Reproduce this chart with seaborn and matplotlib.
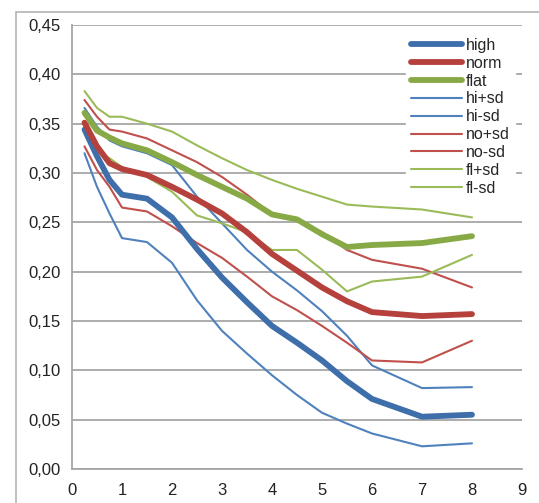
import numpy as np
import pandas as pd
import matplotlib
matplotlib.use("Agg")
import matplotlib.pyplot as plt
from matplotlib.patches import Rectangle
from matplotlib.ticker import FuncFormatter
import seaborn as sns

# x positions of the readings
x_vals = [0.25, 0.5, 0.75, 1, 1.5, 2, 2.5, 3, 3.5, 4, 4.5, 5, 5.5, 6, 7, 8]

high   = [0.344, 0.317, 0.293, 0.278, 0.274, 0.255, 0.223, 0.194, 0.169, 0.145, 0.128, 0.110, 0.089, 0.071, 0.053, 0.055]
norm   = [0.351, 0.327, 0.310, 0.304, 0.298, 0.286, 0.273, 0.259, 0.240, 0.218, 0.201, 0.184, 0.170, 0.159, 0.155, 0.157]
flat   = [0.361, 0.343, 0.336, 0.330, 0.323, 0.311, 0.298, 0.286, 0.274, 0.258, 0.253, 0.238, 0.225, 0.227, 0.229, 0.236]
hi_p   = [0.366, 0.347, 0.333, 0.327, 0.320, 0.308, 0.276, 0.249, 0.222, 0.200, 0.181, 0.160, 0.135, 0.105, 0.082, 0.083]
hi_m   = [0.320, 0.286, 0.259, 0.234, 0.230, 0.209, 0.171, 0.140, 0.117, 0.095, 0.075, 0.057, 0.046, 0.036, 0.023, 0.026]
no_p   = [0.374, 0.357, 0.344, 0.342, 0.335, 0.323, 0.311, 0.296, 0.278, 0.258, 0.252, 0.240, 0.222, 0.212, 0.203, 0.184]
no_m   = [0.327, 0.303, 0.286, 0.265, 0.261, 0.246, 0.229, 0.214, 0.195, 0.175, 0.161, 0.145, 0.128, 0.110, 0.108, 0.130]
fl_p   = [0.383, 0.366, 0.357, 0.357, 0.350, 0.342, 0.328, 0.315, 0.303, 0.293, 0.284, 0.276, 0.268, 0.266, 0.263, 0.255]
fl_m   = [0.342, 0.322, 0.315, 0.306, 0.296, 0.281, 0.257, 0.249, 0.240, 0.222, 0.222, 0.202, 0.180, 0.190, 0.195, 0.217]

names  = ["high", "norm", "flat", "hi+sd", "hi-sd", "no+sd", "no-sd", "fl+sd", "fl-sd"]
series = [high, norm, flat, hi_p, hi_m, no_p, no_m, fl_p, fl_m]
colors = ["#3F6FAB", "#B5403C", "#87AA46",
          "#4F81BD", "#4F81BD", "#C0504D", "#C0504D", "#9BBB59", "#9BBB59"]
widths = [4.2, 4.2, 4.2, 1.5, 1.5, 1.5, 1.5, 1.5, 1.5]

sns.set_style("white")
plt.rcParams['font.family'] = ['Liberation Sans', 'DejaVu Sans']

fig = plt.figure(figsize=(5.39, 5.03), dpi=100)
ax = fig.add_axes([72/539, 1-469/503, 450/539, 444/503])

# outer chart frame (cut off at right and bottom)
fig.patches.append(Rectangle((16/539, -0.2), 1.2, 0.2 + 1 - 12/503, transform=fig.transFigure,
                             fill=False, edgecolor="#b4b4b4", linewidth=1.2))

for name, vals, c, lw in zip(names, series, colors, widths):
    df = pd.DataFrame({"x": x_vals, "y": vals})
    sns.lineplot(data=df, x="x", y="y", ax=ax, color=c, linewidth=lw, label=name,
                 solid_capstyle="round", solid_joinstyle="round", zorder=3 if lw < 2 else 4)

ax.set_xlim(0, 9)
ax.set_ylim(0, 0.45)
ax.set_xticks(range(0, 10))
ax.set_yticks(np.arange(0, 0.451, 0.05))
ax.yaxis.set_major_formatter(FuncFormatter(lambda v, p: f"{v:.2f}".replace(".", ",")))
ax.set_xlabel("")
ax.set_ylabel("")
ax.grid(axis="y", color="#a6a6a6", linewidth=1.3)
ax.grid(axis="x", visible=False)
for s in ["top", "right"]:
    ax.spines[s].set_visible(False)
for s in ["left", "bottom"]:
    ax.spines[s].set_color("#a6a6a6")
    ax.spines[s].set_linewidth(1.3)
ax.tick_params(axis="both", direction="out", length=5, width=1.3, color="#a6a6a6",
               labelsize=12, labelcolor="#222222", pad=3)
ax.tick_params(axis="x", pad=5)

leg = ax.legend(loc="upper left", bbox_to_anchor=(0.725, 1.0), frameon=True, fancybox=False,
                edgecolor="white", facecolor="white", framealpha=1, fontsize=11.5,
                handlelength=3.2, handletextpad=0.25, labelspacing=0.18, borderpad=0.3)
leg.set_zorder(5)

fig.savefig("out.png", dpi=100)
